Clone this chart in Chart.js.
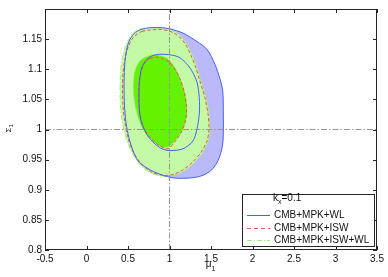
<!DOCTYPE html>
<html><head><meta charset="utf-8">
<script src="https://cdn.jsdelivr.net/npm/chart.js@4.4.0/dist/chart.umd.min.js"></script>
<style>html,body{margin:0;padding:0;background:#fff;overflow:hidden}</style>
</head><body>
<canvas id="c" width="388" height="277"></canvas>
<script>
// ---- data (mu_1, Sigma_1) ----
const xTicks = [-0.5, 0, 0.5, 1, 1.5, 2, 2.5, 3, 3.5];
const yTicks = [0.8, 0.85, 0.9, 0.95, 1, 1.05, 1.1, 1.15];
const xRange = [-0.5, 3.5];
const yRange = [0.8, 1.2];
const refX = 1;
const refY = 1;
const legendTitle = ['k', 'x', '=0.1'];
const seriesNames = ['CMB+MPK+WL', 'CMB+MPK+ISW', 'CMB+MPK+ISW+WL'];

// CMB+MPK+WL 95% and 68% contours
const wlOuter = [[0.765,1.169],[0.898,1.169],[1.006,1.167],[1.163,1.160],[1.331,1.146],[1.452,1.133],[1.548,1.108],[1.608,1.084],[1.641,1.064],[1.648,1.031],[1.645,0.981],[1.620,0.962],[1.572,0.945],[1.500,0.932],[1.404,0.924],[1.283,0.920],[1.139,0.919],[1.030,0.920],[0.922,0.924],[0.825,0.929],[0.717,0.937],[0.620,0.948],[0.560,0.965],[0.512,0.986],[0.476,1.011],[0.458,1.039],[0.452,1.072],[0.458,1.102],[0.476,1.127],[0.512,1.146],[0.572,1.159],[0.657,1.166]];
const wlInner = [[0.886,1.125],[1.006,1.124],[1.127,1.119],[1.247,1.102],[1.328,1.080],[1.359,1.053],[1.359,1.026],[1.331,1.001],[1.283,0.981],[1.163,0.968],[1.006,0.965],[0.910,0.968],[0.825,0.976],[0.729,0.991],[0.665,1.011],[0.636,1.034],[0.633,1.056],[0.636,1.075],[0.665,1.102],[0.725,1.116],[0.801,1.123]];
// CMB+MPK+ISW 95% and 68% contours
const iswOuter = [[0.669,1.163],[0.765,1.165],[0.886,1.166],[0.982,1.164],[1.066,1.159],[1.139,1.151],[1.199,1.140],[1.259,1.123],[1.319,1.102],[1.367,1.080],[1.428,1.052],[1.464,1.026],[1.476,1.001],[1.452,0.981],[1.380,0.962],[1.271,0.945],[1.151,0.932],[1.030,0.925],[0.922,0.924],[0.789,0.929],[0.705,0.937],[0.620,0.950],[0.548,0.967],[0.500,0.986],[0.464,1.011],[0.440,1.039],[0.434,1.067],[0.440,1.094],[0.464,1.117],[0.500,1.136],[0.548,1.150],[0.608,1.158]];
const iswInner = [[0.765,1.118],[0.849,1.120],[0.922,1.117],[0.994,1.112],[1.066,1.100],[1.127,1.084],[1.175,1.064],[1.199,1.044],[1.205,1.028],[1.187,1.011],[1.139,0.995],[1.066,0.980],[0.982,0.968],[0.898,0.972],[0.813,0.980],[0.741,0.991],[0.681,1.006],[0.645,1.024],[0.627,1.047],[0.627,1.069],[0.645,1.089],[0.681,1.105],[0.717,1.113]];
// CMB+MPK+ISW+WL 95% and 68% contours
const allOuter = [[0.645,1.167],[0.765,1.169],[0.886,1.169],[0.982,1.167],[1.066,1.162],[1.139,1.154],[1.211,1.141],[1.271,1.125],[1.331,1.103],[1.380,1.080],[1.440,1.052],[1.476,1.026],[1.488,1.001],[1.464,0.980],[1.392,0.960],[1.283,0.943],[1.163,0.930],[1.030,0.924],[0.922,0.922],[0.789,0.927],[0.693,0.935],[0.608,0.948],[0.536,0.965],[0.476,0.986],[0.434,1.011],[0.410,1.039],[0.404,1.067],[0.410,1.094],[0.428,1.117],[0.464,1.136],[0.512,1.151],[0.572,1.161]];
const allInner = [[0.741,1.122],[0.825,1.124],[0.910,1.122],[0.982,1.117],[1.054,1.105],[1.114,1.089],[1.163,1.070],[1.199,1.051],[1.211,1.034],[1.199,1.016],[1.151,0.998],[1.078,0.983],[0.994,0.972],[0.910,0.970],[0.825,0.978],[0.741,0.990],[0.669,1.003],[0.620,1.021],[0.584,1.041],[0.566,1.061],[0.566,1.080],[0.584,1.097],[0.633,1.112],[0.681,1.118]];

// ---- styles ----
const COL = {
  blueFill: 'rgb(186,186,250)', blueLine: 'rgb(70,95,245)',
  lightGreen: 'rgb(196,250,166)', darkGreen: 'rgb(100,242,0)', greenLine: 'rgb(160,240,120)',
  red: 'rgb(240,80,80)', ref: 'rgb(150,150,150)', axis: '#262626', text: '#111'
};
const FONT = '"Liberation Sans", Arial, Helvetica, sans-serif';
const DASH_RED = [3.5, 2];
const DASH_GREEN = [5, 2, 1, 2];
const DASH_REF = [6, 2, 1.5, 2];

const pts = a => a.concat([a[0]]).map(p => ({x: p[0], y: p[1]}));
const base = {showLine: true, pointRadius: 0, pointHoverRadius: 0, tension: 0.3, fill: false};
const fillDs = (a, c, o) => ({...base, data: pts(a), fill: 'shape', backgroundColor: c, borderColor: 'rgba(0,0,0,0)', borderWidth: 1, order: o});
const lineDs = (a, c, dash, o) => ({...base, data: pts(a), borderColor: c, borderWidth: 1, borderDash: dash, order: o});

const datasets = [
  fillDs(wlOuter, COL.blueFill, 20),
  fillDs(allOuter, COL.lightGreen, 19),
  fillDs(allInner, COL.darkGreen, 18),
  lineDs(allOuter, COL.greenLine, DASH_GREEN, 10),
  lineDs(allInner, COL.greenLine, DASH_GREEN, 10),
  lineDs(iswOuter, COL.red, DASH_RED, 9),
  lineDs(iswInner, COL.red, DASH_RED, 9),
  lineDs(wlOuter, COL.blueLine, [], 8),
  lineDs(wlInner, COL.blueLine, [], 8),
  {...base, tension: 0, data: [{x: refX, y: yRange[0]}, {x: refX, y: yRange[1]}], borderColor: COL.ref, borderWidth: 1, borderDash: DASH_REF, order: 5},
  {...base, tension: 0, data: [{x: xRange[0], y: refY}, {x: xRange[1], y: refY}], borderColor: COL.ref, borderWidth: 1, borderDash: DASH_REF, order: 5}
];

const fmt = v => String(Number(v.toFixed(3)));

const framePlugin = {
  id: 'frame',
  afterDatasetsDraw(chart) {
    const {ctx, chartArea: a, scales: {x, y}} = chart;
    ctx.save();
    ctx.strokeStyle = COL.axis; ctx.lineWidth = 1; ctx.setLineDash([]);
    ctx.strokeRect(Math.round(a.left) + 0.5, Math.round(a.top) + 0.5, Math.round(a.right - a.left) - 1, Math.round(a.bottom - a.top) - 1);
    const tl = 4;
    ctx.beginPath();
    xTicks.forEach(v => {
      const px = Math.round(x.getPixelForValue(v)) + 0.5;
      ctx.moveTo(px, a.bottom); ctx.lineTo(px, a.bottom - tl);
      ctx.moveTo(px, a.top); ctx.lineTo(px, a.top + tl);
    });
    yTicks.forEach(v => {
      const py = Math.round(y.getPixelForValue(v)) + 0.5;
      ctx.moveTo(a.left, py); ctx.lineTo(a.left + tl, py);
      ctx.moveTo(a.right, py); ctx.lineTo(a.right - tl, py);
    });
    ctx.stroke();

    // axis titles
    ctx.fillStyle = COL.text;
    ctx.textBaseline = 'alphabetic';
    ctx.textAlign = 'left';
    const cx = (a.left + a.right) / 2;
    ctx.font = '10px ' + FONT;
    const mw = ctx.measureText('\u03bc').width;
    ctx.fillText('\u03bc', cx - mw + 0.5, 267);
    ctx.font = '7px ' + FONT;
    ctx.fillText('1', cx + 0.5, 271);
    // y title rotated
    ctx.save();
    ctx.translate(11, (a.top + a.bottom) / 2 + 3);
    ctx.rotate(-Math.PI / 2);
    ctx.font = '8px ' + FONT;
    ctx.fillText('\u03a3', 0, 0);
    const sw = ctx.measureText('\u03a3').width;
    ctx.font = '6px ' + FONT;
    ctx.fillText('1', sw, 2);
    ctx.restore();

    // legend
    const L = {l: 242.5, t: 194.5, r: 374.5, b: 246.5};
    ctx.fillStyle = '#fff';
    ctx.fillRect(L.l, L.t, L.r - L.l, L.b - L.t);
    ctx.strokeStyle = COL.axis;
    ctx.strokeRect(L.l, L.t, L.r - L.l, L.b - L.t);
    ctx.fillStyle = COL.text;
    ctx.textBaseline = 'middle';
    ctx.font = '10px ' + FONT;
    let tx = 273;
    ctx.fillText(legendTitle[0], tx, 198); tx += ctx.measureText(legendTitle[0]).width;
    ctx.font = '7px ' + FONT;
    ctx.fillText(legendTitle[1], tx, 202); tx += ctx.measureText(legendTitle[1]).width;
    ctx.font = '10px ' + FONT;
    ctx.fillText(legendTitle[2], tx, 198);
    const rows = [
      {c: COL.blueLine, d: []},
      {c: COL.red, d: [4, 3]},
      {c: COL.greenLine, d: DASH_GREEN}
    ];
    rows.forEach((r, i) => {
      const yy = 215 + i * 12.5;
      ctx.beginPath();
      ctx.strokeStyle = r.c; ctx.setLineDash(r.d);
      ctx.moveTo(247, Math.round(yy) + 0.5); ctx.lineTo(270, Math.round(yy) + 0.5);
      ctx.stroke();
      ctx.setLineDash([]);
      ctx.fillStyle = COL.text;
      ctx.font = '10px ' + FONT;
      ctx.fillText(seriesNames[i], 274, yy + 0.5);
    });
    ctx.restore();
  }
};

new Chart(document.getElementById('c'), {
  type: 'scatter',
  data: {datasets},
  options: {
    responsive: false,
    devicePixelRatio: 1,
    animation: false,
    events: [],
    layout: {padding: {left: 0, top: 7, right: 11, bottom: 0}},
    plugins: {legend: {display: false}, tooltip: {enabled: false}},
    scales: {
      x: {
        type: 'linear', min: xRange[0], max: xRange[1],
        grid: {display: false, drawTicks: false}, border: {display: false},
        afterBuildTicks: s => { s.ticks = xTicks.map(v => ({value: v})); },
        afterFit: s => { s.height = 27; },
        ticks: {padding: 3, color: COL.text, font: {family: FONT, size: 10}, callback: v => fmt(v), maxRotation: 0, autoSkip: false}
      },
      y: {
        type: 'linear', min: yRange[0], max: yRange[1],
        grid: {display: false, drawTicks: false}, border: {display: false},
        afterBuildTicks: s => { s.ticks = yTicks.map(v => ({value: v})); },
        afterFit: s => { s.width = 45; },
        ticks: {padding: 3, color: COL.text, font: {family: FONT, size: 10}, callback: v => fmt(v), autoSkip: false}
      }
    }
  },
  plugins: [framePlugin]
});
</script>
</body></html>
